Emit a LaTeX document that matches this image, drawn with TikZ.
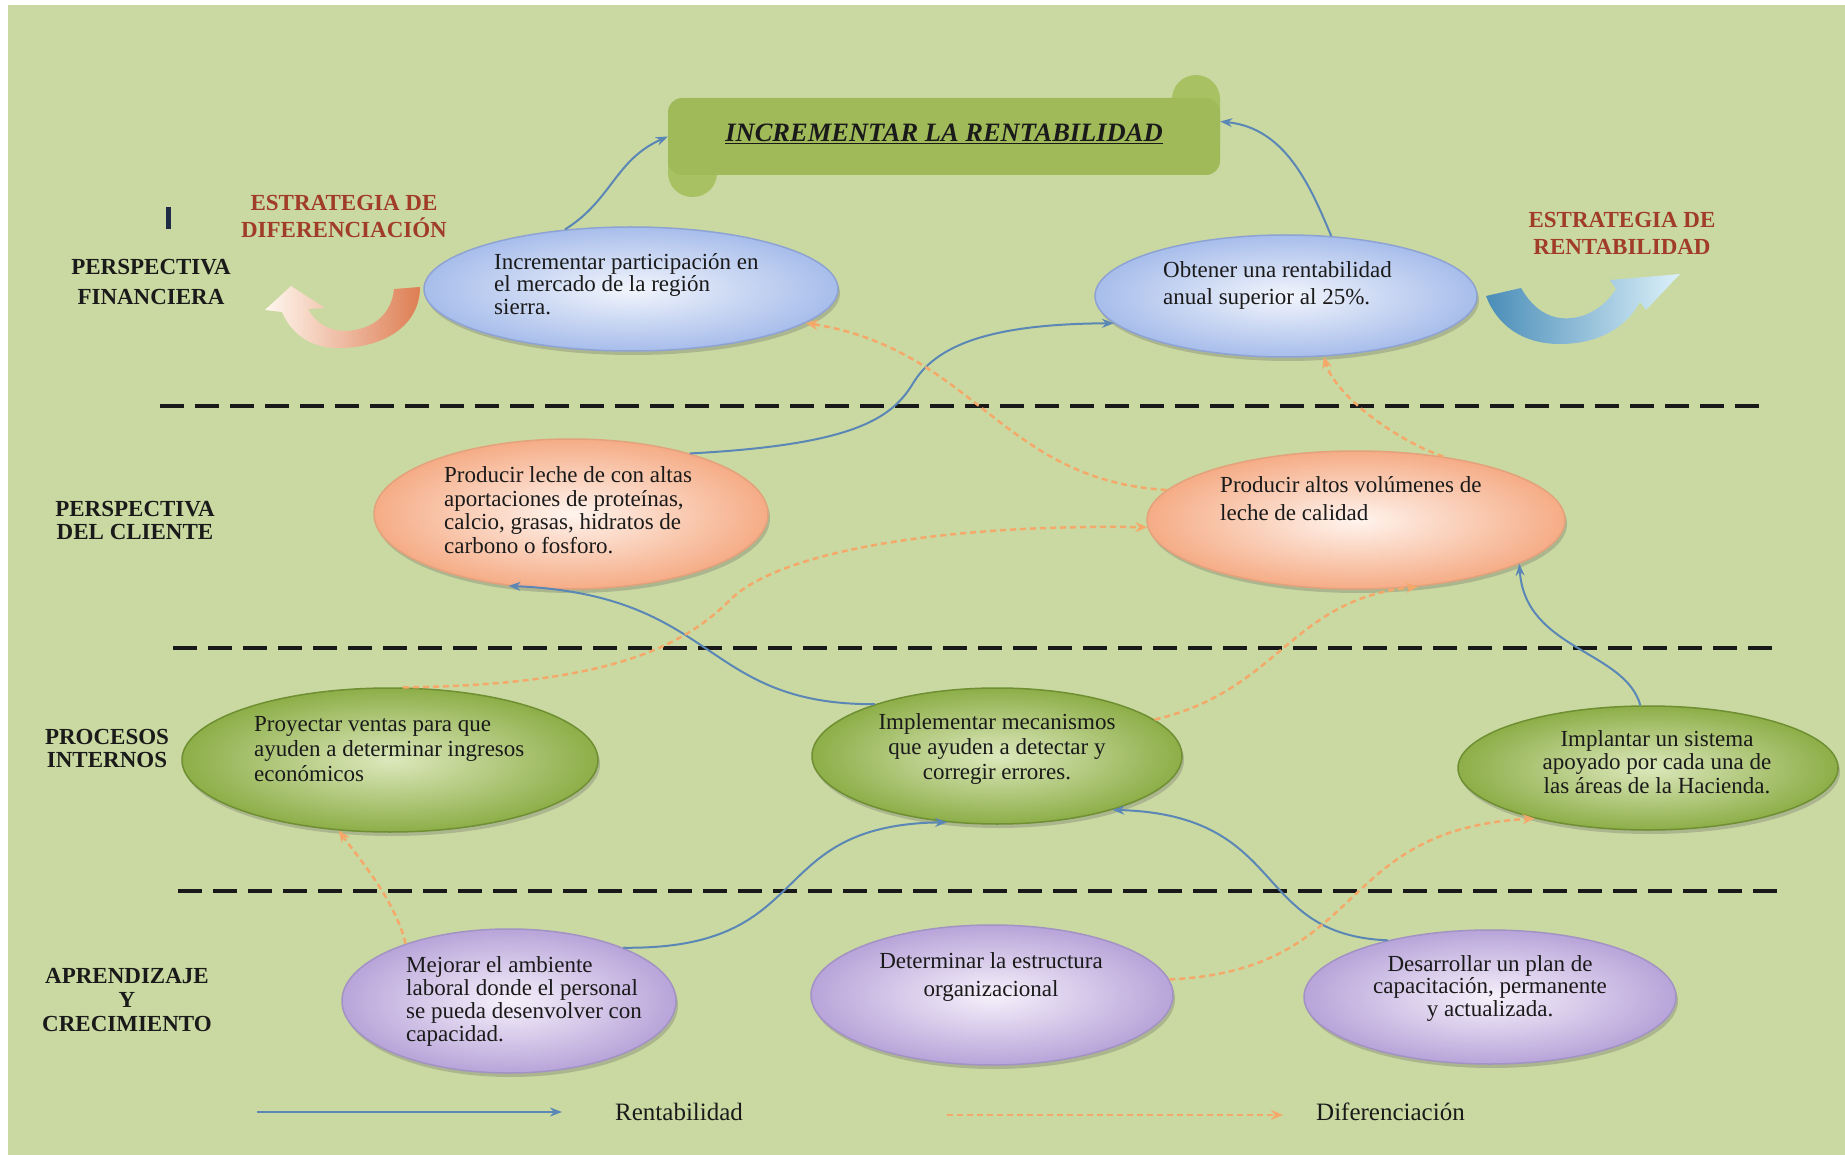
\documentclass[tikz,border=0pt]{standalone}
\usepackage{fontspec}
\setmainfont{Liberation Serif}
\usetikzlibrary{arrows.meta,shadows,shapes.geometric}

\definecolor{bg}{HTML}{CAD9A1}
\definecolor{banner}{HTML}{A0BA5A}
\definecolor{bannerlt}{HTML}{A8C162}
\definecolor{rentblue}{HTML}{5A87B5}
\definecolor{difor}{HTML}{F4A96A}
\definecolor{stratred}{HTML}{A03C28}
\definecolor{ink}{HTML}{1A1A1A}
\definecolor{navybar}{HTML}{1F2A44}
\definecolor{finin}{HTML}{F2F5FC}
\definecolor{finout}{HTML}{A7BDEB}
\definecolor{finbd}{HTML}{8EA3D3}
\definecolor{cliin}{HTML}{FFF4EE}
\definecolor{cliout}{HTML}{F5AC86}
\definecolor{clibd}{HTML}{E3A27C}
\definecolor{proin}{HTML}{DCE8BC}
\definecolor{proout}{HTML}{8DAE48}
\definecolor{probd}{HTML}{6F8F33}
\definecolor{aprin}{HTML}{F6F1FB}
\definecolor{aprout}{HTML}{B8A4D9}
\definecolor{aprbd}{HTML}{A293C4}

\tikzset{
  obj/.style={ellipse, inner sep=0pt, draw, line width=1.5pt,
    drop shadow={shadow xshift=2pt, shadow yshift=-4pt, opacity=0.3, fill=black!60}},
  fin/.style={obj, draw=finbd, inner color=finin, outer color=finout},
  cli/.style={obj, draw=clibd, inner color=cliin, outer color=cliout},
  pro/.style={obj, draw=probd, inner color=proin, outer color=proout},
  apr/.style={obj, draw=aprbd, inner color=aprin, outer color=aprout},
  etxt/.style={inner sep=0pt, text=ink, font=\fontsize{23}{24}\selectfont},
  persp/.style={inner sep=0pt, align=center, text=ink, font=\bfseries\fontsize{23}{26}\selectfont},
  strat/.style={inner sep=0pt, align=center, text=stratred, font=\bfseries\fontsize{23}{27}\selectfont},
  legtxt/.style={inner sep=0pt, anchor=west, text=ink, font=\fontsize{25}{27}\selectfont},
  sepline/.style={line width=4.5pt, dash pattern=on 24pt off 11pt, draw=black!90},
  rent/.style={draw=rentblue, line width=2pt, -{Stealth[length=12pt,width=9pt]}},
  dif/.style={draw=difor, line width=2.5pt, dash pattern=on 6pt off 4pt, -{Stealth[length=12pt,width=10pt]}},
}

\begin{document}
\begin{tikzpicture}[x=1pt,y=-1pt]
\useasboundingbox (0,0) rectangle (1845,1155);
\fill[white] (0,0) rectangle (1845,1155);
\fill[bg] (8,5) rectangle (1845,1155);

% separators
\draw[sepline] (160,406) -- (1762,406);
\draw[sepline] (173,648) -- (1775,648);
\draw[sepline] (178,891) -- (1778,891);

% title banner
\fill[bannerlt, rounded corners=24pt] (668,110) rectangle (717,197);
\fill[bannerlt, rounded corners=24pt] (1172,75) rectangle (1220,165);
\node[fill=banner, rounded corners=14pt, minimum width=552pt, minimum height=77pt, inner sep=0pt,
      text=ink, font=\bfseries\itshape\fontsize{26.5}{28}\selectfont] (title) at (944,136.5)
  {\raisebox{7pt}{\underline{INCREMENTAR LA RENTABILIDAD}}};

% left labels
\node[persp, font=\bfseries\fontsize{23}{29}\selectfont] (lfin) at (151,282) {PERSPECTIVA\\FINANCIERA};
\node[persp, font=\bfseries\fontsize{23}{23}\selectfont] (lcli) at (135,520) {PERSPECTIVA\\DEL CLIENTE};
\node[persp, font=\bfseries\fontsize{23}{23}\selectfont] (lpro) at (107,748) {PROCESOS\\INTERNOS};
\node[persp, font=\bfseries\fontsize{23}{24}\selectfont] (lapr) at (127,1000) {APRENDIZAJE\\Y\\CRECIMIENTO};
\node[fill=navybar, inner sep=0pt, minimum width=5pt, minimum height=22pt] (cursor) at (168.5,218) {};

% strategies
\node[strat] (sdif) at (344,217) {ESTRATEGIA DE\\DIFERENCIACIÓN};
\node[strat] (srent) at (1622,233) {ESTRATEGIA DE\\RENTABILIDAD};

% block arrows
\path[left color=white!75!orange!25, right color={rgb,255:red,222;green,126;blue,84}]
  (420,287) -- (394,289)
  .. controls (392,312) and (375,330) .. (345,331)
  .. controls (328,331) and (315,322) .. (308,309)
  -- (325,308) -- (291,286) -- (265,310) -- (282,312)
  .. controls (292,335) and (312,348) .. (338,348)
  .. controls (385,348) and (420,325) .. (420,287) -- cycle;
\path[left color={rgb,255:red,74;green,141;blue,184}, right color={rgb,255:red,220;green,241;blue,250}]
  (1486,296) -- (1521,288)
  .. controls (1535,312) and (1552,320) .. (1572,318)
  .. controls (1592,316) and (1608,302) .. (1616,289)
  -- (1610,280) -- (1680,274) -- (1646,310) -- (1640,302)
  .. controls (1625,330) and (1595,344) .. (1560,344)
  .. controls (1522,344) and (1497,325) .. (1486,296) -- cycle;

% ellipses
\node[fin, minimum width=414pt, minimum height=124pt] (f1) at (631,289) {};
\node[fin, minimum width=382pt, minimum height=122pt] (f2) at (1286,296) {};
\node[cli, minimum width=394pt, minimum height=150pt] (c1) at (571,514) {};
\node[cli, minimum width=418pt, minimum height=138pt] (c2) at (1356,520) {};
\node[pro, minimum width=416pt, minimum height=144pt] (p1) at (390,760) {};
\node[pro, minimum width=370pt, minimum height=136pt] (p2) at (997,756) {};
\node[pro, minimum width=380pt, minimum height=124pt] (p3) at (1648,768) {};
\node[apr, minimum width=334pt, minimum height=144pt] (l1) at (509,1001) {};
\node[apr, minimum width=362pt, minimum height=140pt] (l2) at (992,995) {};
\node[apr, minimum width=372pt, minimum height=134pt] (l3) at (1490,997) {};

% ellipse texts
\node[etxt, anchor=west, align=left, font=\fontsize{23}{22.5}\selectfont] (f1t) at (494,284)
  {Incrementar participación en\\el mercado de la región\\sierra.};
\node[etxt, anchor=west, align=left, font=\fontsize{23}{27}\selectfont] (f2t) at (1163,285)
  {Obtener una rentabilidad\\anual superior al 25\%.};
\node[etxt, anchor=west, align=left, font=\fontsize{23}{23.5}\selectfont] (c1t) at (444,510)
  {Producir leche de con altas\\aportaciones de proteínas,\\calcio, grasas, hidratos de\\carbono o fosforo.};
\node[etxt, anchor=west, align=left, font=\fontsize{23}{28}\selectfont] (c2t) at (1220,499)
  {Producir altos volúmenes de\\leche de calidad};
\node[etxt, anchor=west, align=left, font=\fontsize{23}{25}\selectfont] (p1t) at (254,749)
  {Proyectar ventas para que\\ayuden a determinar ingresos\\económicos};
\node[etxt, align=center, font=\fontsize{23}{25}\selectfont] (p2t) at (997,749)
  {Implementar mecanismos\\que ayuden a detectar y\\corregir errores.};
\node[etxt, align=center, font=\fontsize{23}{23.5}\selectfont] (p3t) at (1657,762)
  {Implantar un sistema\\apoyado por cada una de\\las áreas de la Hacienda.};
\node[etxt, anchor=west, align=left, font=\fontsize{23}{23}\selectfont] (l1t) at (406,1001)
  {Mejorar el ambiente\\laboral donde el personal\\se pueda desenvolver con\\capacidad.};
\node[etxt, align=center, font=\fontsize{23}{28}\selectfont] (l2t) at (991,977)
  {Determinar la estructura\\organizacional};
\node[etxt, align=center, font=\fontsize{23}{22.5}\selectfont] (l3t) at (1490,988)
  {Desarrollar un plan de\\capacitación, permanente\\y actualizada.};

% rentabilidad connectors
\draw[rent] (f1.138) .. controls (612,200) and (615,160) .. (title.west);
\draw[rent] (f2.53) .. controls (1310,185) and (1285,128) .. ([yshift=15pt]title.east);
\draw[rent] (c1.27) .. controls (850,445) and (890,420) .. (912,385)
                    .. controls (935,345) and (990,324) .. (f2.189);
\draw[rent] (p2.157) .. controls (700,705) and (720,595) .. (c1.229);
\draw[rent] (l1.25) .. controls (820,950) and (760,825) .. (p2.233);
\draw[rent] (l3.151) .. controls (1250,935) and (1290,815) .. (p2.335);
\draw[rent] (p3.97) .. controls (1625,650) and (1525,650) .. (c2.345);

% diferenciacion connectors
\draw[dif] (c2.171) .. controls (1000,480) and (975,350) .. (f1.349);
\draw[dif] (c2.36) .. controls (1395,440) and (1335,395) .. (f2.302);
\draw[dif] (p1.80) .. controls (600,685) and (680,650) .. (730,600)
                   .. controls (780,550) and (950,524) .. (c2.182);
\draw[dif] (p2.13) .. controls (1280,690) and (1290,600) .. (c2.313);
\draw[dif] (l1.151) .. controls (395,900) and (360,860) .. (p1.234);
\draw[dif] (l2.5) .. controls (1370,970) and (1330,830) .. (p3.204);

% legend
\node[legtxt] (rentlbl) at (615,1112) {Rentabilidad};
\node[legtxt] (diflbl) at (1316,1112) {Diferenciación};
\coordinate (lgr) at (257,1112);
\coordinate (lgd) at (947,1115);
\draw[rent, shorten >=53pt] (lgr) -- (lgr -| rentlbl.west);
\draw[dif, shorten >=33pt] (lgd) -- (lgd -| diflbl.west);
\end{tikzpicture}
\end{document}
